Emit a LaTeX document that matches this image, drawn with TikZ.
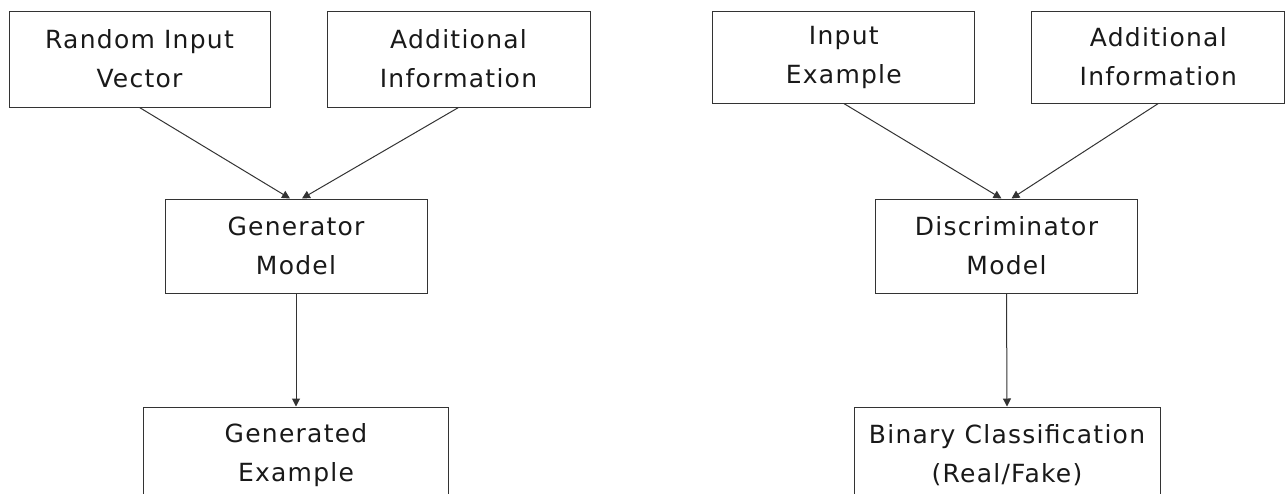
\documentclass[tikz,border=0pt]{standalone}
\usepackage{fontspec}
\setmainfont[LetterSpace=5]{DejaVu Sans}
\usetikzlibrary{arrows.meta}
\definecolor{linegray}{HTML}{333333}
\tikzset{
  box/.style={draw=linegray, line width=1pt, inner sep=0pt, align=center,
    font=\fontsize{25}{39}\selectfont, text=black!90},
  arr/.style={draw=linegray, line width=1pt, -{Triangle[length=8pt,width=8pt]}}
}
\begin{document}
\begin{tikzpicture}[x=1pt,y=-1pt]
\clip (0,0) rectangle (1286,493);
\useasboundingbox (0,0) rectangle (1286,493);
% left
\node[box, minimum width=261pt, minimum height=96pt] (b1) at (139.5,59) {Random Input\\Vector};
\node[box, minimum width=263pt, minimum height=96pt] (b2) at (458.5,59) {Additional\\Information};
\node[box, minimum width=262pt, minimum height=94pt] (gen) at (296,246) {Generator\\Model};
\node[box, minimum width=305pt, minimum height=96pt] (out1) at (296,455) {Generated\\Example};
\draw[arr] (b1.south) -- ([xshift=-6pt]gen.north);
\draw[arr] (b2.south) -- ([xshift=6pt]gen.north);
\draw[arr] (gen.south) -- (out1.north);
% right
\node[box, minimum width=262pt, minimum height=92pt] (in2) at (843.8,57) {Input\\Example};
\node[box, minimum width=253pt, minimum height=92pt] (add2) at (1158.3,57) {Additional\\Information};
\node[box, minimum width=262pt, minimum height=94pt] (disc) at (1006.5,246) {Discriminator\\Model};
\node[box, minimum width=306pt, minimum height=96pt] (bin) at (1007,455) {Binary Classification\\(Real/Fake)};
\draw[arr] (in2.south) -- ([xshift=-5pt]disc.north);
\draw[arr] (add2.south) -- ([xshift=5pt]disc.north);
\draw[arr] (disc.south) -- (bin.north);
\end{tikzpicture}
\end{document}
